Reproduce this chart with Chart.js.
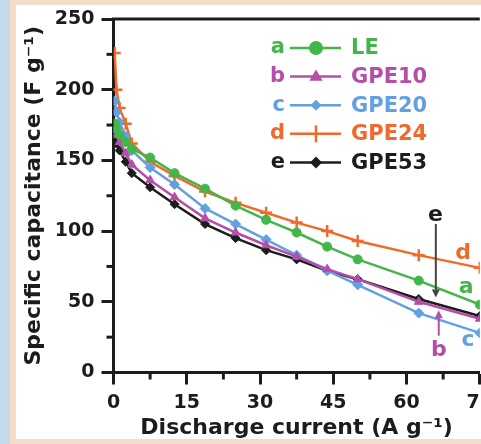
<!DOCTYPE html>
<html>
<head>
<meta charset="utf-8">
<script src="https://cdn.jsdelivr.net/npm/chart.js"></script>
<style>
html,body{margin:0;padding:0;width:481px;height:444px;overflow:hidden;background:#f3dcc8;}
#strip{position:absolute;left:0;top:0;width:10px;height:444px;background:#c4dbeb;}
#panel{position:absolute;left:16px;top:5px;right:0;bottom:5px;background:#fff;}
#wrap{position:absolute;left:0;top:0;width:500px;height:444px;}
</style>
</head>
<body>
<div id="strip"></div>
<div id="panel"></div>
<div id="wrap"><canvas id="myChart" width="500" height="444"></canvas></div>
<script>
// discharge current (A/g) and specific capacitance (F/g)
var current  = [0.25, 0.6, 1.25, 2.5, 3.75, 7.5, 12.5, 18.75, 25, 31.25, 37.5, 43.75, 50, 62.5, 75];
var capLE    = [176, 172, 168, 163, 158, 152, 141, 130, 118, 108, 99, 89, 80, 65, 48];
var capGPE10 = [172, 168, 163, 155, 147, 136, 124, 109, 99, 90, 82, 73, 66, 50, 38];
var capGPE20 = [192, 184, 177, 167, 157, 145, 133, 116, 105, 94, 83, 72, 62, 42, 28];
var capGPE24 = [226, 200, 187, 176, 162, 149, 139, 128, 120, 113, 106, 100, 93, 83, 74];
var capGPE53 = [166, 162, 157, 149, 141, 131, 119, 105, 95, 86.5, 80, 72, 66, 52, 40];

var seriesNames   = ["LE", "GPE10", "GPE20", "GPE24", "GPE53"];
var seriesLetters = ["a", "b", "c", "d", "e"];

var xTicks = [0, 15, 30, 45, 60, 75];
var xMinor = [7.5, 22.5, 37.5, 52.5, 67.5];
var yTicks = [0, 50, 100, 150, 200, 250];
var yMinor = [25, 75, 125, 175, 225];

var GREEN = '#43b54a', PURPLE = '#b54ea9', BLUE = '#62a0e2', ORANGE = '#ef6a2c', BLACK = '#1c1c1c';
var FONT = "'DejaVu Sans', sans-serif";

function pts(ys){
  return current.map(function(x, i){ return {x: x, y: ys[i]}; });
}

function mkSet(i, ys, color, style, r){
  return {
    label: seriesNames[i],
    data: pts(ys),
    borderColor: color,
    backgroundColor: color,
    borderWidth: 2.5,
    pointStyle: style,
    pointRadius: r,
    pointBorderWidth: style == 'cross' ? 2.5 : 1,
    tension: 0
  };
}

// draw one marker (used for the legend)
function marker(ctx, style, x, y, r, color){
  ctx.save();
  ctx.fillStyle = color; ctx.strokeStyle = color; ctx.lineWidth = 2.5;
  ctx.beginPath();
  if (style == 'circle') {
    ctx.arc(x, y, r, 0, Math.PI*2); ctx.fill();
  } else if (style == 'triangle') {
    ctx.moveTo(x, y - r); ctx.lineTo(x + r*0.95, y + r*0.6); ctx.lineTo(x - r*0.95, y + r*0.6);
    ctx.closePath(); ctx.fill();
  } else if (style == 'rectRot') {
    ctx.moveTo(x, y - r); ctx.lineTo(x + r, y); ctx.lineTo(x, y + r); ctx.lineTo(x - r, y);
    ctx.closePath(); ctx.fill();
  } else if (style == 'cross') {
    ctx.moveTo(x, y - r); ctx.lineTo(x, y + r); ctx.stroke();
  }
  ctx.restore();
}

var decor = {
  id: 'decor',
  afterDraw: function(chart){
    var ctx = chart.ctx, a = chart.chartArea;
    var xs = chart.scales.x, ys = chart.scales.y;
    ctx.save();
    // top frame line
    ctx.strokeStyle = BLACK; ctx.lineWidth = 3;
    ctx.beginPath(); ctx.moveTo(a.left - 1.5, a.top); ctx.lineTo(a.right, a.top); ctx.stroke();
    // minor ticks
    yMinor.forEach(function(v){
      var py = ys.getPixelForValue(v);
      ctx.beginPath(); ctx.moveTo(a.left - 7, py); ctx.lineTo(a.left, py); ctx.stroke();
    });
    xMinor.forEach(function(v){
      var px = xs.getPixelForValue(v);
      ctx.beginPath(); ctx.moveTo(px, a.bottom); ctx.lineTo(px, a.bottom + 7); ctx.stroke();
    });

    // legend
    var ds = chart.data.datasets;
    var legR = [7, 7, 5.5, 8.5, 6];
    ctx.font = "bold 21px " + FONT;
    ctx.textBaseline = 'middle';
    for (var i = 0; i < ds.length; i++) {
      var yy = 48 + i*28.6;
      var c = ds[i].borderColor;
      ctx.fillStyle = c;
      ctx.textAlign = 'right';
      ctx.fillText(seriesLetters[i], 285, yy);
      ctx.strokeStyle = c; ctx.lineWidth = 2.5;
      ctx.beginPath(); ctx.moveTo(290, yy); ctx.lineTo(341, yy); ctx.stroke();
      marker(ctx, ds[i].pointStyle, 316, yy, legR[i], c);
      ctx.textAlign = 'left';
      ctx.fillText(ds[i].label, 351, yy + 1);
    }

    // curve labels and arrows
    ctx.font = "bold 22px " + FONT;
    ctx.textAlign = 'center';
    var tags = [
      {t: 'd', x: 71.6, y: 84, c: ORANGE},
      {t: 'a', x: 72.2, y: 60, c: GREEN},
      {t: 'c', x: 72.6, y: 23, c: BLUE},
      {t: 'b', x: 66.6, y: 16, c: PURPLE},
      {t: 'e', x: 65.9, y: 111.5, c: BLACK}
    ];
    tags.forEach(function(g){
      ctx.fillStyle = g.c;
      ctx.fillText(g.t, xs.getPixelForValue(g.x), ys.getPixelForValue(g.y));
    });
    function arrow(x, y1, y2, color){
      var px = xs.getPixelForValue(x), p1 = ys.getPixelForValue(y1), p2 = ys.getPixelForValue(y2);
      var dir = p2 > p1 ? 1 : -1;
      ctx.strokeStyle = color; ctx.fillStyle = color; ctx.lineWidth = 2;
      ctx.beginPath(); ctx.moveTo(px, p1); ctx.lineTo(px, p2 - dir*6); ctx.stroke();
      ctx.beginPath(); ctx.moveTo(px, p2); ctx.lineTo(px - 4, p2 - dir*8); ctx.lineTo(px + 4, p2 - dir*8);
      ctx.closePath(); ctx.fill();
    }
    arrow(66, 105, 53, '#444');
    arrow(66.6, 26, 44, PURPLE);
    ctx.restore();
  }
};

var chartData = {
  datasets: [
    mkSet(0, capLE, GREEN, 'circle', 4.5),
    mkSet(1, capGPE10, PURPLE, 'triangle', 5),
    mkSet(2, capGPE20, BLUE, 'rectRot', 5),
    mkSet(3, capGPE24, ORANGE, 'cross', 6),
    mkSet(4, capGPE53, BLACK, 'rectRot', 4.5)
  ]
};

var chartConfig = {
  type: 'line',
  data: chartData,
  options: {
    responsive: false,
    animation: false,
    devicePixelRatio: 1,
    layout: { padding: { top: 19, right: 14, left: 0, bottom: 0 } },
    plugins: { legend: { display: false }, tooltip: { enabled: false } },
    scales: {
      x: {
        type: 'linear', min: 0, max: 75,
        afterBuildTicks: function(s){ s.ticks = xTicks.map(function(v){ return {value: v}; }); },
        afterFit: function(s){ s.height = 71.5; },
        border: { display: true, width: 3, color: BLACK },
        grid: { drawOnChartArea: false, drawTicks: true, tickLength: 12, tickWidth: 3, tickColor: BLACK },
        ticks: { autoSkip: false, maxRotation: 0, padding: 7, color: BLACK, font: { family: FONT, size: 19, weight: 'bold' } },
        title: { display: true, text: 'Discharge current (A g⁻¹)', color: BLACK, padding: { top: 0, bottom: 3 },
                 font: { family: FONT, size: 22, weight: 'bold' } }
      },
      y: {
        type: 'linear', min: 0, max: 250,
        afterBuildTicks: function(s){ s.ticks = yTicks.map(function(v){ return {value: v}; }); },
        afterFit: function(s){ s.width = 113.5; },
        border: { display: true, width: 3, color: BLACK },
        grid: { drawOnChartArea: false, drawTicks: true, tickLength: 12, tickWidth: 3, tickColor: BLACK },
        ticks: { padding: 7, color: BLACK, font: { family: FONT, size: 19, weight: 'bold' } },
        title: { display: true, text: 'Specific capacitance (F g⁻¹)', color: BLACK, padding: { top: 21, bottom: 0 },
                 font: { family: FONT, size: 22, weight: 'bold' } }
      }
    }
  },
  plugins: [decor]
};

var myChart = new Chart(document.getElementById('myChart'), chartConfig);
</script>
</body>
</html>
